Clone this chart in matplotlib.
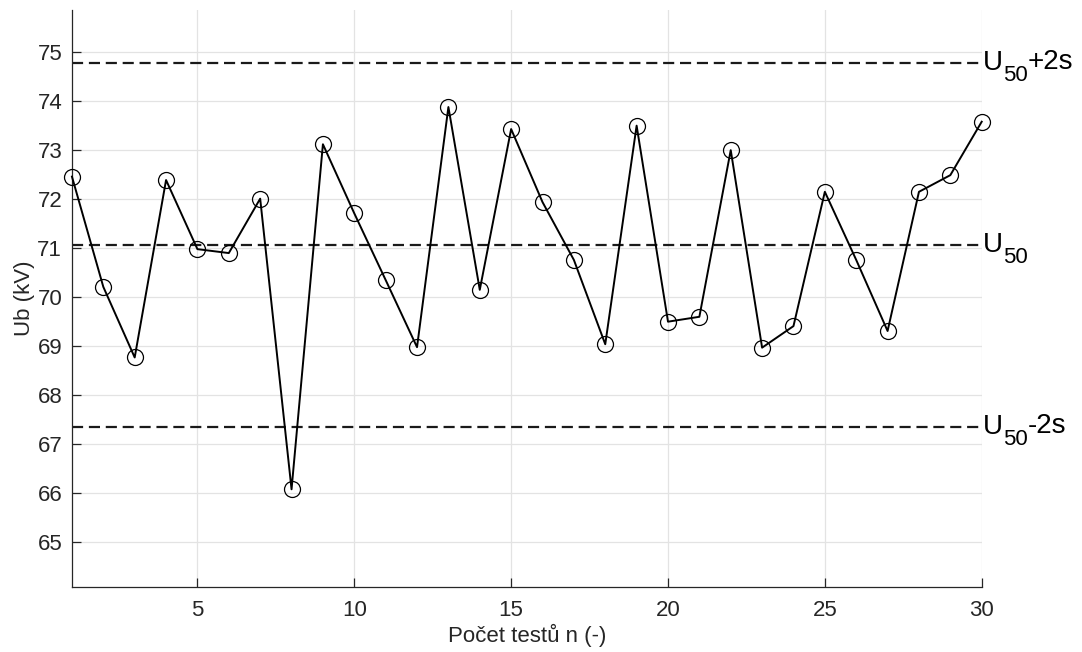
import matplotlib
matplotlib.use("Agg")
import matplotlib.pyplot as plt

# pocet testu a namerene prurazne napeti
n = list(range(1, 31))
ub = [72.45, 70.20, 68.76, 72.38, 70.97, 70.89, 72.00, 66.07, 73.11, 71.70,
      70.34, 68.97, 73.87, 70.14, 73.42, 71.93, 70.75, 69.03, 73.49, 69.49,
      69.59, 72.99, 68.96, 69.40, 72.14, 70.75, 69.30, 72.14, 72.48, 73.57]

u50 = 71.05
s = 1.855
urovne = [u50 + 2 * s, u50, u50 - 2 * s]
pripony = ["+2s", "", "-2s"]

xticks = [5, 10, 15, 20, 25, 30]
yticks = list(range(65, 76))

plt.rcParams['font.family'] = ['Liberation Sans', 'DejaVu Sans']

fig = plt.figure(figsize=(10.82, 6.52), dpi=100)
ax = fig.add_axes([0.0665, 0.0992, 0.8408, 0.8855])

ax.plot(n, ub, color='black', linewidth=1.4, marker='o', markersize=11.5,
        markerfacecolor='none', markeredgecolor='black', markeredgewidth=0.9,
        zorder=3, clip_on=False)

ax.set_xlim(1, 30)
ax.set_ylim(64.07, 75.85)
ax.set_xticks(xticks)
ax.set_yticks(yticks)
ax.grid(True, color='#e3e3e3', linewidth=0.9, zorder=0)
ax.set_axisbelow(True)

for side in ['top', 'right']:
    ax.spines[side].set_visible(False)
for side in ['left', 'bottom']:
    ax.spines[side].set_color('#262626')
    ax.spines[side].set_linewidth(0.9)

ax.tick_params(direction='in', length=6.5, width=0.9, colors='#262626',
               labelsize=16, labelcolor='#262626')
ax.tick_params(axis='x', pad=9)
ax.tick_params(axis='y', pad=7)
ax.set_xlabel("Počet testů n (-)", fontsize=16, color='#262626', labelpad=2)
ax.set_ylabel("Ub (kV)", fontsize=16, color='#262626', labelpad=2)

fig.canvas.draw()
r = fig.canvas.get_renderer()


def kus(txt, u, dx, dy, fs):
    t = ax.annotate(txt, xy=(1, u), xycoords=('axes fraction', 'data'),
                    xytext=(dx, dy), textcoords='offset points',
                    ha='left', va='baseline', fontsize=fs, color='black',
                    annotation_clip=False)
    return dx + t.get_window_extent(r).width * 72 / fig.dpi


# popisky U50, U50+2s, U50-2s s vetsim dolnim indexem
for u, pr in zip(urovne, pripony):
    ax.axhline(u, color='#1a1a1a', linewidth=1.6, dashes=(5, 2.6), zorder=2)
    x = kus("U", u, 0.5, -5, 20)
    x = kus("50", u, x + 0.5, -13, 16)
    if pr:
        kus(pr, u, x, -4, 20)

fig.savefig("out.png", dpi=100)
